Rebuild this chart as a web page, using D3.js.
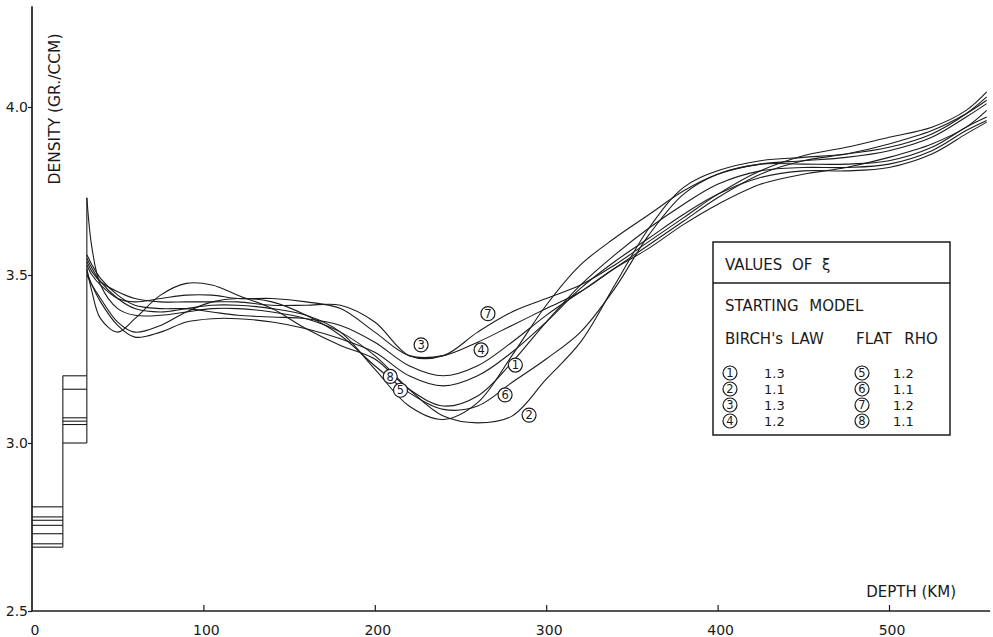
<!DOCTYPE html>
<html>
<head>
<meta charset="utf-8">
<script src="https://cdn.jsdelivr.net/npm/d3@7"></script>
<style>
  html, body { margin: 0; padding: 0; background: #fff; }
  svg { display: block; }
  text { font-family: "DejaVu Sans", "Noto Sans", sans-serif; fill: #1a1a1a; }
</style>
</head>
<body>
<svg id="chart" width="993" height="637"></svg>
<script>
// Depth knots (km) shared by every density profile
const depthKm = [32, 35, 40, 50, 60, 75, 90, 105, 120, 140, 160, 180, 200, 220, 240,
                 260, 280, 300, 320, 340, 360, 380, 400, 425, 450, 475, 500, 525, 545, 557];

// Density profiles (gr/ccm) for the eight inversions
const model1 = [3.55, 3.52, 3.48, 3.43, 3.40, 3.39, 3.40, 3.41, 3.41, 3.40, 3.38, 3.33, 3.22, 3.11, 3.07,
                3.12, 3.26, 3.41, 3.53, 3.61, 3.68, 3.75, 3.80, 3.83, 3.84, 3.85, 3.87, 3.91, 3.97, 4.01];
const model2 = [3.73, 3.58, 3.47, 3.40, 3.38, 3.38, 3.39, 3.40, 3.40, 3.39, 3.37, 3.33, 3.26, 3.16, 3.08,
                3.06, 3.08, 3.19, 3.30, 3.47, 3.64, 3.76, 3.81, 3.84, 3.85, 3.86, 3.88, 3.92, 3.98, 4.03];
const model3 = [3.53, 3.50, 3.47, 3.43, 3.42, 3.43, 3.44, 3.44, 3.43, 3.43, 3.42, 3.40, 3.33, 3.26, 3.26,
                3.30, 3.35, 3.40, 3.45, 3.52, 3.59, 3.66, 3.73, 3.80, 3.84, 3.86, 3.89, 3.93, 3.98, 4.02];
const model4 = [3.56, 3.53, 3.49, 3.44, 3.41, 3.40, 3.40, 3.39, 3.38, 3.375, 3.37, 3.35, 3.30, 3.23, 3.20,
                3.23, 3.30, 3.38, 3.45, 3.52, 3.58, 3.65, 3.71, 3.77, 3.80, 3.82, 3.85, 3.89, 3.94, 3.99];
const model5 = [3.52, 3.45, 3.37, 3.33, 3.37, 3.44, 3.475, 3.47, 3.44, 3.40, 3.34, 3.29, 3.25, 3.16, 3.11,
                3.14, 3.24, 3.36, 3.47, 3.56, 3.64, 3.71, 3.77, 3.81, 3.82, 3.82, 3.83, 3.87, 3.93, 3.96];
const model6 = [3.50, 3.47, 3.43, 3.36, 3.33, 3.35, 3.39, 3.42, 3.43, 3.42, 3.38, 3.32, 3.23, 3.15, 3.10,
                3.11, 3.18, 3.25, 3.33, 3.46, 3.62, 3.74, 3.80, 3.83, 3.83, 3.83, 3.84, 3.88, 3.94, 3.97];
const model7 = [3.54, 3.51, 3.48, 3.45, 3.43, 3.42, 3.42, 3.42, 3.42, 3.41, 3.41, 3.41, 3.36, 3.26, 3.26,
                3.33, 3.39, 3.43, 3.47, 3.53, 3.60, 3.67, 3.74, 3.81, 3.855, 3.88, 3.91, 3.94, 3.99, 4.045];
const model8 = [3.51, 3.47, 3.42, 3.35, 3.315, 3.33, 3.36, 3.37, 3.37, 3.36, 3.34, 3.31, 3.27, 3.20, 3.17,
                3.20, 3.27, 3.36, 3.46, 3.54, 3.61, 3.68, 3.74, 3.79, 3.81, 3.81, 3.82, 3.86, 3.92, 3.955];

const models = [model1, model2, model3, model4, model5, model6, model7, model8];

// Circled labels on the profiles: [depth km, density]
const modelNames = ["1", "2", "3", "4", "5", "6", "7", "8"];
const labelAnchors = [[282, 3.232], [290, 3.083], [227, 3.292], [262, 3.277],
                      [215, 3.157], [276, 3.143], [266, 3.385], [209, 3.198]];

// Crustal layers: lower crust 0-18 km, upper block 18-32 km
const lowerCrustDensities = [2.81, 2.78, 2.77, 2.755, 2.73, 2.70, 2.69];
const lowerCrustDepth = [0, 18];
const upperCrustDensities = [3.20, 3.16, 3.075, 3.065, 3.055, 3.00];
const upperCrustDepth = [18, 32];
const mohoTop = 3.73;

// Axis ticks
const depthTicks = [0, 100, 200, 300, 400, 500];
const densityTicks = [2.5, 3.0, 3.5, 4.0];

// Legend contents
const birchValues = ["1.3", "1.1", "1.3", "1.2"];
const flatValues = ["1.2", "1.1", "1.2", "1.1"];

const svg = d3.select("#chart");
const ink = "#1c1c1c";

const x = d3.scaleLinear().domain([0, 500]).range([32, 889]);
const y = d3.scaleLinear().domain([2.5, 4.0]).range([611, 107]);

// Axes
const axisX = svg.append("g").attr("transform", `translate(0,${y(2.5)})`)
  .call(d3.axisTop(x).tickValues(depthTicks.filter(d => d > 0)).tickSize(6).tickFormat(""));
axisX.select(".domain").remove();
axisX.selectAll("line").attr("stroke", ink).attr("stroke-width", 1.2);
svg.append("line").attr("x1", x(0)).attr("x2", x(559)).attr("y1", y(2.5)).attr("y2", y(2.5))
  .attr("stroke", ink).attr("stroke-width", 1.7);

const axisY = svg.append("g").attr("transform", `translate(${x(0)},0)`)
  .call(d3.axisLeft(y).tickValues(densityTicks).tickSize(4).tickFormat(""));
axisY.select(".domain").remove();
axisY.selectAll("line").attr("stroke", ink).attr("stroke-width", 1.2);
svg.append("line").attr("x1", x(0)).attr("x2", x(0)).attr("y1", y(2.5)).attr("y2", y(4.3))
  .attr("stroke", ink).attr("stroke-width", 1.7);

svg.append("g").selectAll("text").data(depthTicks).join("text")
  .attr("x", d => x(d) + 3).attr("y", 635)
  .attr("text-anchor", "middle").attr("font-size", 14)
  .text(d => d);

svg.append("g").selectAll("text").data(densityTicks).join("text")
  .attr("x", 28).attr("y", d => y(d) + 5)
  .attr("text-anchor", "end").attr("font-size", 14)
  .text(d => d.toFixed(1));

svg.append("text")
  .attr("transform", `translate(60,${109}) rotate(-90)`)
  .attr("text-anchor", "middle").attr("font-size", 15.5)
  .text("DENSITY (GR./CCM)");

svg.append("text").attr("x", 956).attr("y", 597)
  .attr("text-anchor", "end").attr("font-size", 15)
  .text("DEPTH (KM)");

// Crustal blocks
const crust = svg.append("g").attr("stroke", ink).attr("stroke-width", 1.1).attr("fill", "none");
crust.selectAll("line.lc").data(lowerCrustDensities).join("line")
  .attr("x1", x(lowerCrustDepth[0])).attr("x2", x(lowerCrustDepth[1]))
  .attr("y1", d => y(d)).attr("y2", d => y(d));
crust.selectAll("line.uc").data(upperCrustDensities).join("line")
  .attr("x1", x(upperCrustDepth[0])).attr("x2", x(upperCrustDepth[1]))
  .attr("y1", d => y(d)).attr("y2", d => y(d));
crust.append("line")
  .attr("x1", x(lowerCrustDepth[1])).attr("x2", x(lowerCrustDepth[1]))
  .attr("y1", y(d3.min(lowerCrustDensities))).attr("y2", y(d3.max(upperCrustDensities)));
crust.append("line")
  .attr("x1", x(upperCrustDepth[1])).attr("x2", x(upperCrustDepth[1]))
  .attr("y1", y(d3.min(upperCrustDensities))).attr("y2", y(mohoTop));

// Density profiles
const line = d3.line()
  .x((d, i) => x(depthKm[i]))
  .y(d => y(d))
  .curve(d3.curveCatmullRom.alpha(0.5));

svg.append("g").selectAll("path").data(models).join("path")
  .attr("d", line)
  .attr("fill", "none").attr("stroke", ink).attr("stroke-width", 1.1);

// Circled profile numbers
function circled(g, cx, cy, label) {
  g.append("circle").attr("cx", cx).attr("cy", cy).attr("r", 7)
    .attr("fill", "#fff").attr("stroke", ink).attr("stroke-width", 1.2);
  g.append("text").attr("x", cx).attr("y", cy + 4.2)
    .attr("text-anchor", "middle").attr("font-size", 11.5)
    .text(label);
}
const tags = svg.append("g");
labelAnchors.forEach((p, i) => circled(tags, x(p[0]), y(p[1]), modelNames[i]));

// Legend box
const lg = svg.append("g");
lg.append("rect").attr("x", 713).attr("y", 242).attr("width", 237).attr("height", 193)
  .attr("fill", "#fff").attr("stroke", ink).attr("stroke-width", 1.5);
lg.append("line").attr("x1", 713).attr("x2", 950).attr("y1", 283).attr("y2", 283)
  .attr("stroke", ink).attr("stroke-width", 1.4);
lg.append("text").attr("x", 725).attr("y", 270).attr("font-size", 15)
  .attr("word-spacing", 5).text("VALUES OF ξ");
lg.append("text").attr("x", 725).attr("y", 311).attr("font-size", 15)
  .attr("word-spacing", 6).text("STARTING MODEL");
lg.append("text").attr("x", 725).attr("y", 344).attr("font-size", 15)
  .attr("word-spacing", 3).text("BIRCH's LAW");
lg.append("text").attr("x", 856).attr("y", 344).attr("font-size", 15)
  .attr("word-spacing", 8).text("FLAT RHO");

const rowY = [373, 389, 405, 421];
birchValues.forEach((v, i) => {
  circled(lg, 730, rowY[i], modelNames[i]);
  lg.append("text").attr("x", 764).attr("y", rowY[i] + 5).attr("font-size", 13).text(v);
});
flatValues.forEach((v, i) => {
  circled(lg, 862, rowY[i], modelNames[i + 4]);
  lg.append("text").attr("x", 893).attr("y", rowY[i] + 5).attr("font-size", 13).text(v);
});
</script>
</body>
</html>
